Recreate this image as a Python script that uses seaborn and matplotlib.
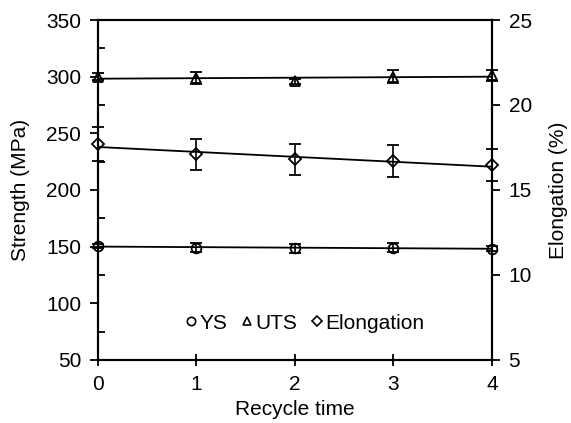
import numpy as np
import pandas as pd
import matplotlib
matplotlib.use("Agg")
import matplotlib.pyplot as plt
import seaborn as sns
from matplotlib.lines import Line2D
from matplotlib.ticker import MultipleLocator

# ---- data ----
recycle = [0, 1, 2, 3, 4]
ys = [150.5, 149.2, 148.6, 149.0, 148.2]
ys_err = [2.0, 4.0, 4.0, 4.0, 2.0]
uts = [299.8, 298.6, 295.8, 300.0, 301.3]
uts_err = [3.0, 5.5, 2.5, 5.5, 5.0]
elong = [17.7, 17.1, 16.8, 16.7, 16.45]
elong_err = [1.0, 0.9, 0.9, 0.95, 0.95]
x_ticks = [0, 1, 2, 3, 4]

FS = 15

sns.set_style("ticks")
plt.rcParams['font.family'] = ['Liberation Sans', 'DejaVu Sans']
plt.rcParams['font.size'] = FS
plt.rcParams['text.color'] = 'black'
plt.rcParams['axes.labelcolor'] = 'black'
plt.rcParams['xtick.color'] = 'black'
plt.rcParams['ytick.color'] = 'black'

df = pd.DataFrame({"x": recycle, "ys": ys, "uts": uts, "elong": elong})

fig = plt.figure(figsize=(5.71, 4.23), dpi=100)
ax = fig.add_axes([0.1716, 0.149, 0.69, 0.8037])
ax2 = ax.twinx()

mk = dict(color="black", mfc="none", mec="black", mew=1.3, ms=7,
          ecolor="black", elinewidth=1.2, capsize=4, capthick=1.2, ls="none")


def noclip(container):
    for art in container.get_children():
        art.set_clip_on(False)


# strength series
noclip(ax.errorbar(recycle, ys, yerr=ys_err, marker="o", zorder=3, **mk))
noclip(ax.errorbar(recycle, uts, yerr=uts_err, marker="^", zorder=3, **mk))
sns.regplot(data=df, x="x", y="ys", scatter=False, ci=None, ax=ax,
            line_kws=dict(color="black", lw=1.3))
sns.regplot(data=df, x="x", y="uts", scatter=False, ci=None, ax=ax,
            line_kws=dict(color="black", lw=1.3))

# elongation series
noclip(ax2.errorbar(recycle, elong, yerr=elong_err, marker="D", zorder=3,
                    **{**mk, "ms": 6}))
sns.regplot(data=df, x="x", y="elong", scatter=False, ci=None, ax=ax2,
            line_kws=dict(color="black", lw=1.3))

ax.set_xlim(0, 4)
ax.set_ylim(50, 350)
ax2.set_ylim(5, 25)
ax.set_xticks(x_ticks)
ax.set_xticklabels([str(t) for t in x_ticks])
ax.yaxis.set_major_locator(MultipleLocator(50))
ax.yaxis.set_minor_locator(MultipleLocator(25))
ax2.yaxis.set_major_locator(MultipleLocator(5))

ax.set_xlabel("Recycle time", fontsize=FS, labelpad=4, color="black")
ax.set_ylabel("Strength (MPa)", fontsize=FS, labelpad=12, color="black")
ax2.set_ylabel("Elongation (%)", fontsize=FS, labelpad=12, color="black")

for a in (ax, ax2):
    for s in a.spines.values():
        s.set_linewidth(1.5)
        s.set_color("black")
    a.spines["top"].set_visible(True)
    a.spines["right"].set_visible(True)

ax.tick_params(axis="x", which="major", direction="inout", length=8, width=1.3,
               labelsize=FS, pad=7, colors="black")
ax.tick_params(axis="y", which="major", direction="out", length=6, width=1.3,
               labelsize=FS, pad=6, colors="black")
ax.tick_params(axis="y", which="minor", direction="in", length=5, width=1.3,
               colors="black")
ax2.tick_params(axis="y", which="major", direction="out", length=6, width=1.3,
                labelsize=FS, pad=6, colors="black")
ax2.tick_params(axis="x", which="both", top=False)

handles = [
    Line2D([], [], ls="none", marker="o", mfc="none", mec="black", mew=1.2, ms=6),
    Line2D([], [], ls="none", marker="^", mfc="none", mec="black", mew=1.2, ms=6),
    Line2D([], [], ls="none", marker="D", mfc="none", mec="black", mew=1.2, ms=5),
]
leg = ax2.legend(handles, ["YS", "UTS", "Elongation"], loc="center",
                 bbox_to_anchor=(0.52, 0.108), ncol=3, frameon=False,
                 handletextpad=-0.1, columnspacing=0.45, handlelength=1.0,
                 fontsize=FS)
for t in leg.get_texts():
    t.set_color("black")

fig.savefig("out.png", dpi=100)
